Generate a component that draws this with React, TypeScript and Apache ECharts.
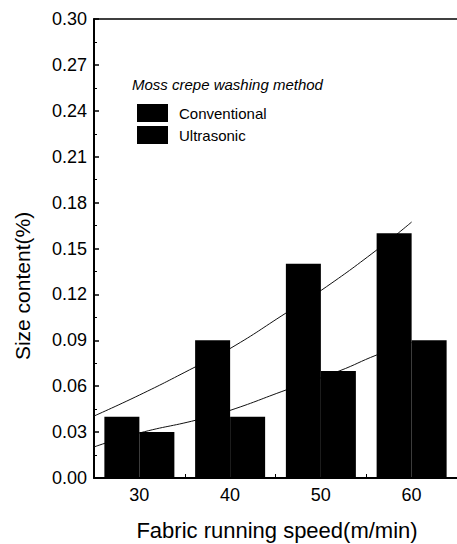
import React, { useEffect, useRef } from "react";
import * as echarts from "echarts";

const categories = ["30", "40", "50", "60"];
const conventional = [0.04, 0.09, 0.14, 0.16];
const ultrasonic = [0.03, 0.04, 0.07, 0.09];
const yTicks = [0, 0.03, 0.06, 0.09, 0.12, 0.15, 0.18, 0.21, 0.24, 0.27, 0.3];
// trend curves: [speed, size content]
const convTrend: [number, number][] = [
  [25, 0.0405], [30, 0.0542], [35.5, 0.0706], [40.1, 0.085], [46.15, 0.1078],
  [50.1, 0.1229], [56.15, 0.149], [60, 0.1673],
];
const ultraTrend: [number, number][] = [
  [25, 0.0203], [30, 0.0294], [36.3, 0.0379], [40.1, 0.0444], [46.15, 0.0575],
  [52, 0.0699], [56.15, 0.0804], [60, 0.0885],
];

const FONT = "'Liberation Sans', Arial, Helvetica, sans-serif";

export default function App() {
  const ref = useRef<HTMLDivElement>(null);
  useEffect(() => {
    if (!ref.current) return;
    const chart = echarts.init(ref.current, undefined, { renderer: "svg" });
    chart.setOption({
      animation: false,
      backgroundColor: "#fff",
      textStyle: { fontFamily: FONT, color: "#000" },
      grid: { left: 94, top: 19, width: 364, bottom: 66, containLabel: false },
      legend: {
        orient: "vertical",
        left: 132,
        top: 99,
        icon: "rect",
        itemWidth: 31,
        itemHeight: 18,
        itemGap: 4,
        itemStyle: { color: "#000" },
        textStyle: { fontFamily: FONT, fontSize: 15, color: "#000", padding: [0, 0, 0, 6] },
        data: ["Conventional", "Ultrasonic"],
      },
      xAxis: [
        {
          type: "category",
          data: categories,
          position: "bottom",
          axisLine: { lineStyle: { color: "#000", width: 2 } },
          axisTick: { show: true, inside: true, length: 4, lineStyle: { color: "#000", width: 1 } },
          axisLabel: { fontFamily: FONT, fontSize: 18, color: "#000", margin: 8 },
          splitLine: { show: false },
        },
        {
          type: "value",
          min: 25,
          max: 65,
          position: "top",
          axisLine: { show: true, onZero: false, lineStyle: { color: "#000", width: 1.5 } },
          axisTick: { show: false },
          axisLabel: { show: false },
          splitLine: { show: false },
        },
      ],
      yAxis: {
        type: "value",
        min: 0,
        max: 0.3,
        interval: 0.03,
        axisLine: { show: true, lineStyle: { color: "#000", width: 2 } },
        axisTick: { show: true, inside: true, length: 5, lineStyle: { color: "#000", width: 1.5 } },
        minorTick: { show: true, splitNumber: 2, length: 3, lineStyle: { color: "#000", width: 1 } },
        axisLabel: {
          fontFamily: FONT,
          fontSize: 18,
          color: "#000",
          margin: 7,
          formatter: (v: number) => {
            const t = yTicks.find((x) => Math.abs(x - v) < 1e-9);
            return (t !== undefined ? t : v).toFixed(2);
          },
        },
        splitLine: { show: false },
      },
      graphic: [
        {
          type: "text",
          left: 132,
          top: 77,
          style: {
            text: "Moss crepe washing method",
            font: `italic 15px ${FONT}`,
            fill: "#000",
          },
        },
        {
          type: "text",
          x: 22,
          y: 286,
          rotation: Math.PI / 2,
          style: {
            text: "Size content(%)",
            font: `21px ${FONT}`,
            fill: "#000",
            align: "center",
            verticalAlign: "middle",
          },
        },
        {
          type: "text",
          x: 277,
          y: 530,
          style: {
            text: "Fabric running speed(m/min)",
            font: `22px ${FONT}`,
            fill: "#000",
            align: "center",
            verticalAlign: "middle",
          },
        },
      ],
      series: [
        {
          name: "Conventional",
          type: "bar",
          data: conventional,
          barWidth: 35,
          barGap: "0%",
          itemStyle: { color: "#000" },
          z: 3,
        },
        {
          name: "Ultrasonic",
          type: "bar",
          data: ultrasonic,
          barWidth: 35,
          barGap: "0%",
          itemStyle: { color: "#000" },
          z: 3,
        },
        {
          name: "convTrend",
          type: "line",
          xAxisIndex: 1,
          data: convTrend,
          smooth: true,
          showSymbol: false,
          lineStyle: { color: "#111", width: 1 },
          z: 2,
        },
        {
          name: "ultraTrend",
          type: "line",
          xAxisIndex: 1,
          data: ultraTrend,
          smooth: true,
          showSymbol: false,
          lineStyle: { color: "#111", width: 1 },
          z: 2,
        },
      ],
    });
    return () => chart.dispose();
  }, []);
  return (
    <div
      ref={ref}
      style={{ position: "fixed", left: 0, top: 0, width: 457, height: 544 }}
    />
  );
}
